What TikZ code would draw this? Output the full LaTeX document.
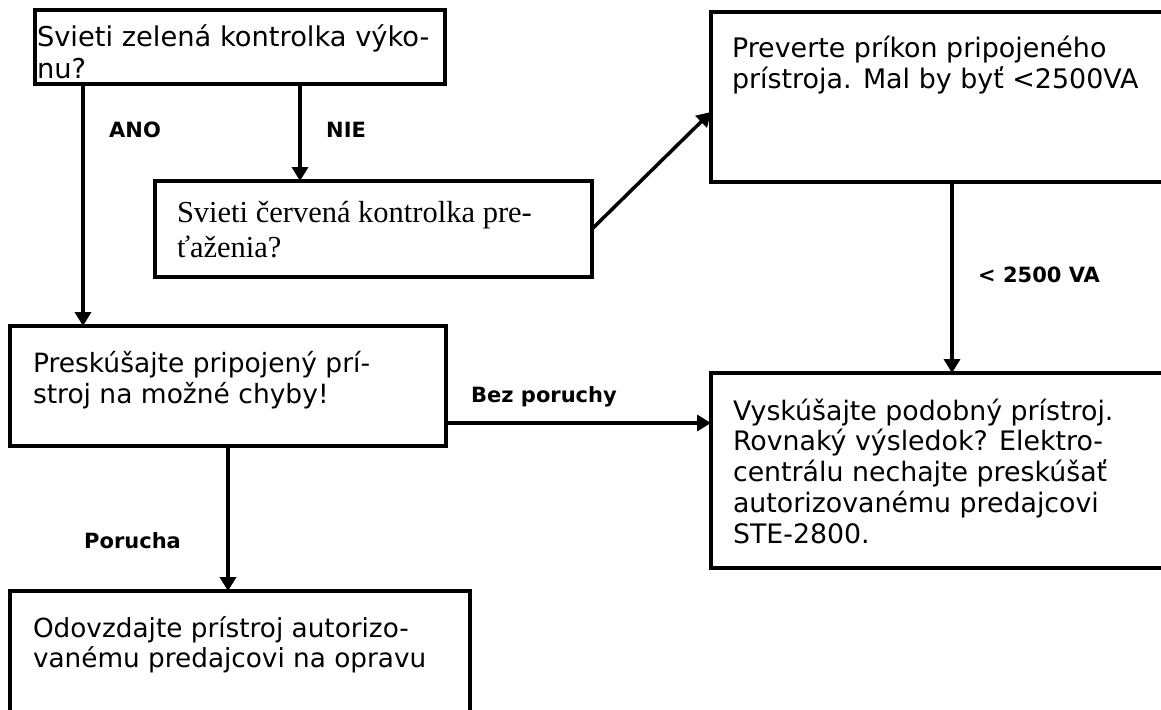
\documentclass[tikz,border=0pt]{standalone}
\usepackage{fontspec}
\setmainfont{DejaVu Sans}
\newfontfamily\timesfont{Liberation Serif}
\usetikzlibrary{arrows.meta,calc}
% width, height, left padding, first baseline depth, text
\newcommand\boxcontent[5]{%
  \parbox[c][#2][t]{#1}{\raggedright\leftskip=#3\relax\parindent=0pt\rule{0pt}{#4}#5}}
\tikzset{
  boxnode/.style={draw, line width=4pt, inner sep=0pt, outer sep=0pt, anchor=north west},
  conn/.style={line width=3.5pt, -{Triangle[length=14pt,width=16pt]}},
  lbl/.style={font=\fontsize{21}{25}\selectfont\bfseries, inner sep=0pt, anchor=base west},
}
\begin{document}
\begin{tikzpicture}[x=1pt,y=-1pt]
\useasboundingbox (0,0) rectangle (1161,709);
\clip (0,0) rectangle (1161,709);
\fill[white] (0,0) rectangle (1161,709);

\node[boxnode] (b1) at (35,10) {\boxcontent{410pt}{74pt}{2pt}{37pt}{\fontsize{27.3}{31}\selectfont Svieti zelená kontrolka výko-\\nu?}};
\node[boxnode] (red) at (155,181) {\boxcontent{437pt}{96pt}{22pt}{41pt}{\timesfont\fontsize{30.5}{35}\selectfont Svieti červená kontrolka pre-\\ťaženia?}};
\node[boxnode] (pv) at (711,12) {\boxcontent{500pt}{170pt}{21pt}{45pt}{\fontsize{26.9}{31}\selectfont Preverte príkon pripojeného\\prístroja. Mal by byť <2500VA}};
\node[boxnode] (b3) at (10,326) {\boxcontent{436pt}{120pt}{23pt}{46pt}{\fontsize{26.5}{31}\selectfont Preskúšajte pripojený prí-\\stroj na možné chyby!}};
\node[boxnode] (vy) at (711,373) {\boxcontent{500pt}{195pt}{22pt}{47pt}{\fontsize{26.8}{30.8}\selectfont Vyskúšajte podobný prístroj.\\Rovnaký výsledok? Elektro-\\centrálu nechajte preskúšať\\autorizovanému predajcovi\\STE-2800.}};
\node[boxnode] (b5) at (10,591) {\boxcontent{460pt}{200pt}{23pt}{46pt}{\fontsize{26.3}{30}\selectfont Odovzdajte prístroj autorizo-\\vanému predajcovi na opravu}};

\coordinate (xano) at (83,0);
\coordinate (xnie) at (300,0);
\coordinate (xva) at (952,0);
\coordinate (xpor) at (228,0);
\coordinate (ybez) at (0,423);
\coordinate (ydiag) at (0,112);

\draw[conn] (b1.south -| xano) -- (b3.north -| xano);
\draw[conn] (b1.south -| xnie) -- (red.north -| xnie);
\draw[conn] (red.east) -- (pv.west |- ydiag);
\draw[conn] (pv.south -| xva) -- (vy.north -| xva);
\draw[conn] (b3.east |- ybez) -- (vy.west |- ybez);
\draw[conn] (b3.south -| xpor) -- (b5.north -| xpor);

\node[lbl] (lano) at (109,137) {ANO};
\node[lbl] (lnie) at (326,137) {NIE};
\node[lbl] (lva) at (978,282) {< 2500 VA};
\node[lbl] (lbez) at (471,402) {Bez poruchy};
\node[lbl] (lpor) at (84,548) {Porucha};
\end{tikzpicture}
\end{document}
